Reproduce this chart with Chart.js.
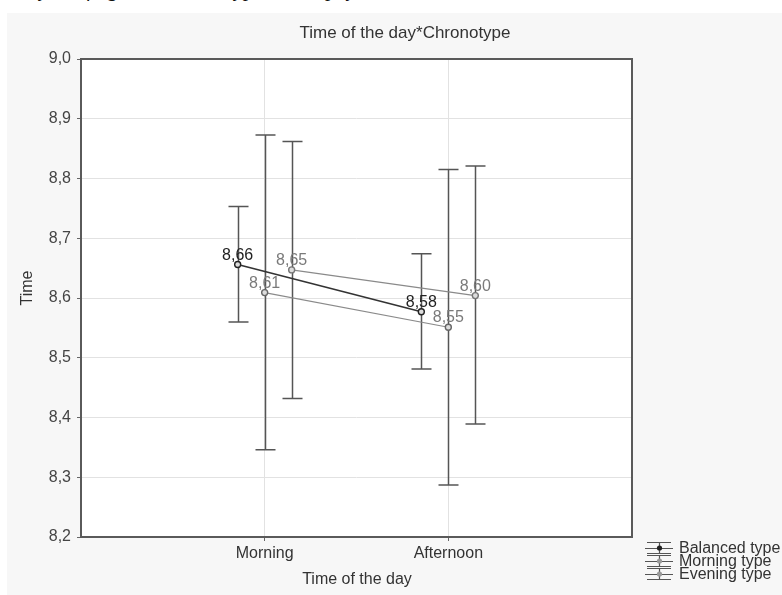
<!DOCTYPE html>
<html><head><meta charset="utf-8">
<script src="https://cdn.jsdelivr.net/npm/chart.js@4.4.0/dist/chart.umd.min.js"></script>
<style>
html,body{margin:0;padding:0;background:#fff;overflow:hidden}
#wrap{position:relative;width:782px;height:595px;overflow:hidden}
#caption{position:absolute;left:0;top:-21px;font:italic 21px 'Liberation Serif',serif;line-height:21px;color:#111;white-space:nowrap}
canvas{position:absolute;left:0;top:0}
</style></head><body>
<div id="wrap"><div id="caption">Analysis of age and chronotype on the physical</div><canvas id="c" width="782" height="595"></canvas></div>
<script>
const categories = ['Morning', 'Afternoon'];
const seriesNames = ['Balanced type', 'Morning type', 'Evening type'];
const balancedMean = [8.656, 8.577];
const balancedLow  = [8.560, 8.481];
const balancedHigh = [8.753, 8.674];
const morningMean  = [8.609, 8.551];
const morningLow   = [8.346, 8.287];
const morningHigh  = [8.873, 8.815];
const eveningMean  = [8.647, 8.604];
const eveningLow   = [8.432, 8.389];
const eveningHigh  = [8.862, 8.821];
const yMin = 8.2, yMax = 9.0, yStep = 0.1;
const chartTitle = 'Time of the day*Chronotype';
const xTitle = 'Time of the day';
const yTitle = 'Time';

const series = [
  {name: seriesNames[0], mean: balancedMean, low: balancedLow, high: balancedHigh, line: '#333', lw: 1.6, label: '#222', pt: '#222'},
  {name: seriesNames[1], mean: morningMean, low: morningLow, high: morningHigh, line: '#8a8a8a', lw: 1.1, label: '#7a7a7a', pt: '#666'},
  {name: seriesNames[2], mean: eveningMean, low: eveningLow, high: eveningHigh, line: '#8a8a8a', lw: 1.1, label: '#7a7a7a', pt: '#777'}
];
const offsets = [-0.147, 0, 0.147];
const FONT = "'Liberation Sans', Arial, sans-serif";
const fmt = (v, d) => v.toFixed(d).replace('.', ',');

const datasets = series.map((s, si) => ({
  label: s.name,
  data: s.mean.map((m, i) => ({x: i + 1 + offsets[si], y: m})),
  showLine: true,
  borderColor: s.line,
  borderWidth: s.lw,
  pointRadius: 3,
  pointBorderWidth: 1.4,
  pointBorderColor: s.pt,
  pointBackgroundColor: '#ddd'
}));

const bgPlugin = {
  id: 'bg',
  beforeDraw(chart) {
    const {ctx, chartArea: a} = chart;
    ctx.save();
    ctx.fillStyle = '#f7f7f7';
    ctx.fillRect(7, 13, 782 - 7, 595 - 13);
    ctx.fillStyle = '#ffffff';
    ctx.fillRect(a.left, a.top, a.right - a.left, a.bottom - a.top);
    ctx.restore();
  }
};

const errPlugin = {
  id: 'errbars',
  beforeDatasetsDraw(chart) {
    const {ctx, scales: {x, y}} = chart;
    ctx.save();
    ctx.strokeStyle = '#555';
    ctx.lineWidth = 1.5;
    series.forEach((s, si) => {
      s.mean.forEach((m, i) => {
        const px = Math.round(x.getPixelForValue(i + 1 + offsets[si])) + 0.5;
        const yl = y.getPixelForValue(s.low[i]);
        const yh = y.getPixelForValue(s.high[i]);
        ctx.beginPath();
        ctx.moveTo(px, yh); ctx.lineTo(px, yl);
        ctx.moveTo(px - 10, yh); ctx.lineTo(px + 10, yh);
        ctx.moveTo(px - 10, yl); ctx.lineTo(px + 10, yl);
        ctx.stroke();
      });
    });
    ctx.restore();
  },
  afterDatasetsDraw(chart) {
    const {ctx, scales: {x, y}, chartArea: a} = chart;
    ctx.save();
    ctx.font = '16px ' + FONT;
    ctx.textAlign = 'center';
    ctx.textBaseline = 'alphabetic';
    series.forEach((s, si) => {
      s.mean.forEach((m, i) => {
        const px = x.getPixelForValue(i + 1 + offsets[si]);
        const py = y.getPixelForValue(m);
        ctx.fillStyle = s.label;
        ctx.fillText(fmt(m, 2), px, py - 5);
      });
    });
    ctx.strokeStyle = '#5a5a5a';
    ctx.lineWidth = 2;
    ctx.strokeRect(a.left, a.top, a.right - a.left, a.bottom - a.top);
    ctx.restore();
  },
  afterDraw(chart) {
    const {ctx} = chart;
    ctx.save();
    ctx.fillStyle = '#333';
    ctx.textAlign = 'center';
    ctx.textBaseline = 'middle';
    ctx.font = '17px ' + FONT;
    ctx.fillText(chartTitle, 405, 33);
    ctx.font = '16px ' + FONT;
    ctx.fillText(xTitle, 357, 580);
    ctx.save();
    ctx.translate(28, 288);
    ctx.rotate(-Math.PI / 2);
    ctx.fillText(yTitle, 0, 0);
    ctx.restore();
    const rows = [548, 561, 574];
    ctx.textAlign = 'left';
    series.forEach((s, si) => {
      const cy = rows[si];
      const cx = 659.5;
      ctx.strokeStyle = '#555';
      ctx.lineWidth = 1.2;
      ctx.beginPath();
      ctx.moveTo(647, cy - 5.5); ctx.lineTo(671, cy - 5.5);
      ctx.moveTo(645, cy + 0.5); ctx.lineTo(673, cy + 0.5);
      ctx.moveTo(647, cy + 5.5); ctx.lineTo(671, cy + 5.5);
      ctx.moveTo(cx, cy - 6); ctx.lineTo(cx, cy + 6);
      ctx.stroke();
      ctx.beginPath();
      ctx.arc(cx, cy, 2.6, 0, Math.PI * 2);
      ctx.fillStyle = si === 0 ? '#222' : '#999';
      ctx.fill();
      ctx.fillStyle = '#333';
      ctx.fillText(s.name, 679, cy + 1);
    });
    ctx.restore();
  }
};

new Chart(document.getElementById('c'), {
  type: 'scatter',
  data: {datasets},
  options: {
    responsive: false,
    animation: false,
    devicePixelRatio: 1,
    layout: {padding: {top: 59, right: 150, left: 0, bottom: 0}},
    plugins: {legend: {display: false}, tooltip: {enabled: false}, title: {display: false}},
    scales: {
      x: {
        type: 'linear', min: 0, max: 3,
        afterBuildTicks: s => { s.ticks = categories.map((c, i) => ({value: i + 1})); },
        afterFit: s => { s.height = 595 - 537; },
        ticks: {callback: v => categories[v - 1] || '', color: '#333', font: {family: FONT, size: 16}, padding: 3, maxRotation: 0, autoSkip: false},
        grid: {color: '#e2e2e2', lineWidth: 1, tickColor: '#666', tickLength: 4},
        border: {display: false}
      },
      y: {
        min: yMin, max: yMax,
        afterFit: s => { s.width = 81; },
        ticks: {stepSize: yStep, callback: v => fmt(v, 1), color: '#444', font: {family: FONT, size: 16}, padding: 6},
        grid: {color: '#e2e2e2', lineWidth: 1, tickColor: '#666', tickLength: 4},
        border: {display: false}
      }
    }
  },
  plugins: [bgPlugin, errPlugin]
});
</script>
</body></html>
